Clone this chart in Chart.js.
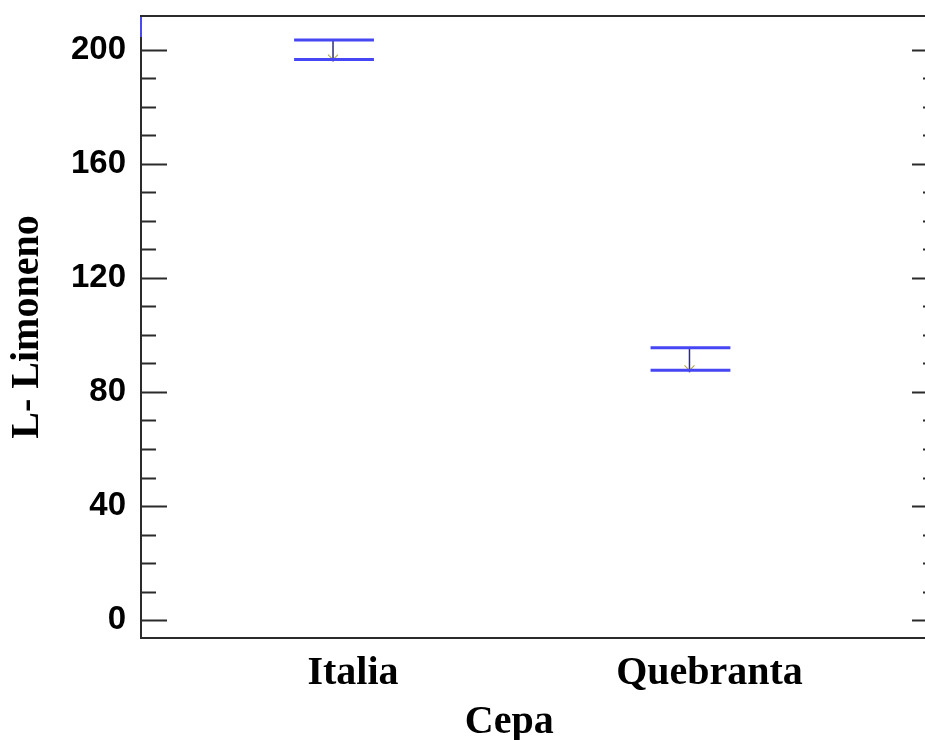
<!DOCTYPE html>
<html>
<head>
<meta charset="utf-8">
<script src="https://cdn.jsdelivr.net/npm/chart.js@4.4.1/dist/chart.umd.min.js"></script>
<style>
  html, body { margin: 0; padding: 0; background: #fff; overflow: hidden; }
  canvas { display: block; }
</style>
</head>
<body>
<canvas id="c" width="940" height="740"></canvas>
<script>
// Means and interval limits of L-Limoneno per grape variety
const categories = ['Italia', 'Quebranta'];
const means = [200.0, 91.5];
const lowerLimits = [196.6, 87.6];
const upperLimits = [203.5, 95.5];
const yTickValues = [0, 40, 80, 120, 160, 200];
const yMinorValues = [10, 20, 30, 50, 60, 70, 90, 100, 110, 130, 140, 150, 170, 180, 190];
const xTitle = 'Cepa';
const yTitle = 'L- Limoneno';

const SERIF = '"Liberation Serif", "Times New Roman", serif';
const SANS = '"Liberation Sans", Arial, sans-serif';

// Box frame with inward tick marks on the left and right sides
const framePlugin = {
  id: 'frame',
  afterDraw(chart) {
    const { ctx, chartArea: a, scales } = chart;
    const ys = scales.y;
    ctx.save();
    ctx.strokeStyle = '#2b2b2b';
    ctx.lineWidth = 2;
    ctx.beginPath();
    ctx.rect(a.left, a.top, a.right - a.left, a.bottom - a.top);
    ctx.stroke();

    const drawTick = (v, len) => {
      const y = Math.round(ys.getPixelForValue(v)) + 0.5;
      ctx.beginPath();
      ctx.moveTo(a.left, y); ctx.lineTo(a.left + len, y);
      ctx.moveTo(a.right, y); ctx.lineTo(a.right - len, y);
      ctx.stroke();
    };
    ctx.lineWidth = 2;
    yTickValues.forEach(v => drawTick(v, 26));
    yMinorValues.forEach(v => drawTick(v, 15));

    // short blue stroke at the top of the left spine
    ctx.strokeStyle = '#4a4af2';
    ctx.beginPath();
    ctx.moveTo(a.left, a.top + 1);
    ctx.lineTo(a.left, ys.getPixelForValue(204.5));
    ctx.stroke();

    // x axis title, centred between the two categories
    const xs = scales.x;
    ctx.fillStyle = '#000';
    ctx.font = 'bold 40px ' + SERIF;
    ctx.textAlign = 'center';
    ctx.textBaseline = 'alphabetic';
    ctx.fillText(xTitle, (xs.getPixelForValue(1) + xs.getPixelForValue(2)) / 2 - 3, a.bottom + 95);
    ctx.restore();
  }
};

// Interval bars: two horizontal limits joined by a thin vertical stroke
const intervalPlugin = {
  id: 'intervals',
  afterDatasetsDraw(chart) {
    const { ctx, scales } = chart;
    const xs = scales.x, ys = scales.y;
    const halfWidth = 0.112;
    ctx.save();
    categories.forEach((c, i) => {
      const xc = xs.getPixelForValue(i + 1);
      const x0 = xs.getPixelForValue(i + 1 - halfWidth);
      const x1 = xs.getPixelForValue(i + 1 + halfWidth);
      const yU = ys.getPixelForValue(upperLimits[i]);
      const yL = ys.getPixelForValue(lowerLimits[i]);
      ctx.strokeStyle = '#2c2c7a';
      ctx.lineWidth = 1.5;
      ctx.beginPath();
      ctx.moveTo(xc - 1, yU); ctx.lineTo(xc - 1, yL + 2);
      ctx.stroke();
      ctx.strokeStyle = '#b5aa55';
      ctx.lineWidth = 1.2;
      ctx.beginPath();
      ctx.moveTo(xc - 6, yL - 5); ctx.lineTo(xc - 1, yL);
      ctx.lineTo(xc + 4, yL - 5);
      ctx.stroke();
      ctx.strokeStyle = '#4646f4';
      ctx.lineWidth = 3;
      ctx.beginPath();
      ctx.moveTo(x0, yU); ctx.lineTo(x1, yU);
      ctx.moveTo(x0, yL); ctx.lineTo(x1, yL);
      ctx.stroke();
    });
    ctx.restore();
  }
};

new Chart(document.getElementById('c'), {
  type: 'scatter',
  data: {
    datasets: [{
      label: yTitle,
      data: categories.map((c, i) => ({ x: i + 1, y: means[i] })),
      pointRadius: 0,
      pointHoverRadius: 0,
      showLine: false
    }]
  },
  options: {
    responsive: false,
    animation: false,
    devicePixelRatio: 1,
    layout: { padding: { top: 16, right: 2, left: 0, bottom: 0 } },
    plugins: { legend: { display: false }, tooltip: { enabled: false } },
    scales: {
      x: {
        type: 'linear',
        min: 0.4585,
        max: 2.6944,
        afterBuildTicks: s => { s.ticks = categories.map((c, i) => ({ value: i + 1 })); },
        afterFit: s => { s.height = 102; s.paddingLeft = 0; s.paddingRight = 0; },
        ticks: {
          callback: v => categories[v - 1],
          font: { family: SERIF, size: 40, weight: 'bold' },
          color: '#000',
          padding: 4,
          labelOffset: 19,
          maxRotation: 0,
          autoSkip: false
        },
        grid: { display: false },
        border: { display: false }
      },
      y: {
        min: -6.3,
        max: 211.9,
        afterBuildTicks: s => { s.ticks = yTickValues.map(v => ({ value: v })); },
        afterFit: s => { s.width = 141; s.paddingTop = 0; s.paddingBottom = 0; },
        ticks: {
          font: { family: SANS, size: 33, weight: 'bold' },
          color: '#000',
          padding: 7
        },
        title: {
          display: true,
          text: yTitle,
          font: { family: SERIF, size: 40, weight: 'bold' },
          color: '#000',
          padding: { top: 4, bottom: 0 }
        },
        grid: { display: false },
        border: { display: false }
      }
    }
  },
  plugins: [framePlugin, intervalPlugin]
});
</script>
</body>
</html>
